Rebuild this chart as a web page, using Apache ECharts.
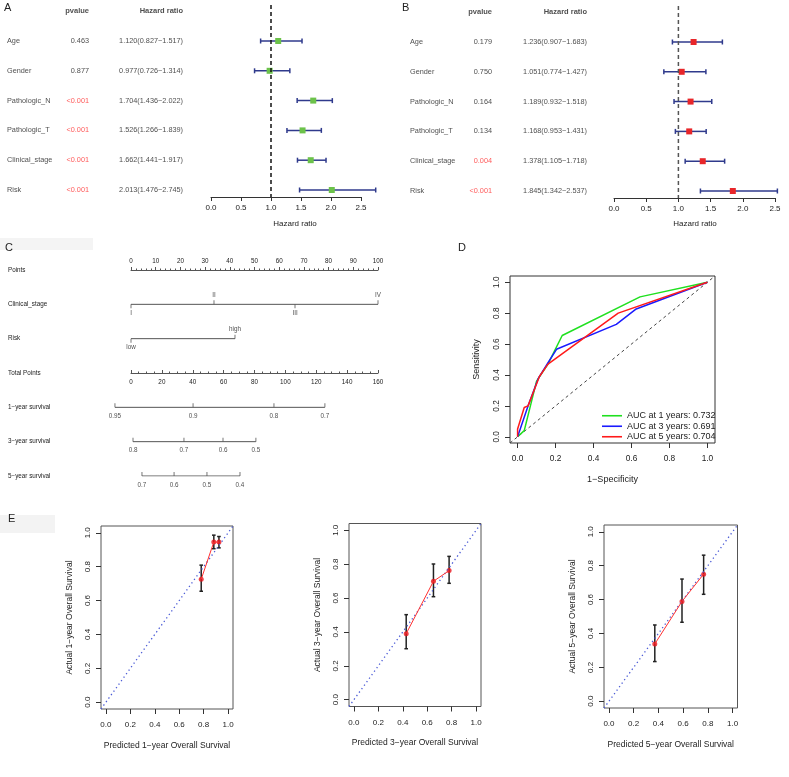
<!DOCTYPE html>
<html><head><meta charset="utf-8">
<script src="https://cdn.jsdelivr.net/npm/echarts@6/dist/echarts.min.js"></script>
<style>html,body{margin:0;padding:0;background:#fff}#c{width:789px;height:777px}</style>
</head><body><div id="c"></div>
<script>
// ---------- DATA ----------
const forestVars = ['Age','Gender','Pathologic_N','Pathologic_T','Clinical_stage','Risk'];
const uniP  = ['0.463','0.877','<0.001','<0.001','<0.001','<0.001'];
const uniHR = [1.120,0.977,1.704,1.526,1.662,2.013];
const uniLo = [0.827,0.726,1.436,1.266,1.441,1.476];
const uniHi = [1.517,1.314,2.022,1.839,1.917,2.745];
const multiP  = ['0.179','0.750','0.164','0.134','0.004','<0.001'];
const multiHR = [1.236,1.051,1.189,1.168,1.378,1.845];
const multiLo = [0.907,0.774,0.932,0.953,1.105,1.342];
const multiHi = [1.683,1.427,1.518,1.431,1.718,2.537];
const hrTicks = [0,0.5,1,1.5,2,2.5];

const nomoRows = ['Points','Clinical_stage','Risk','Total Points','1\u2212year survival','3\u2212year survival','5\u2212year survival'];
const pointsTicks = [0,10,20,30,40,50,60,70,80,90,100];
const totalTicks = [0,20,40,60,80,100,120,140,160];
const stageLabels = ['I','II','III','IV'];
const stagePoints = [0,33.6,66.4,100];
const riskLabels = ['low','high'];
const riskPoints = [0,42.1];
const surv1Labels = ['0.95','0.9','0.8','0.7'];
const surv1Total  = [-10.4,40.2,92.6,125.6];
const surv3Labels = ['0.8','0.7','0.6','0.5'];
const surv3Total  = [1.3,34.3,59.6,80.9];
const surv5Labels = ['0.7','0.6','0.5','0.4'];
const surv5Total  = [7.1,27.9,49.2,70.6];

const rocNames = ['AUC at 1 years: 0.732','AUC at 3 years: 0.691','AUC at 5 years: 0.704'];
const roc1FPR = [0,0.035,0.10,0.16,0.235,0.645,1];
const roc1TPR = [0,0.04,0.36,0.47,0.655,0.905,1];
const roc3FPR = [0,0.055,0.11,0.158,0.205,0.52,0.625,1];
const roc3TPR = [0,0.20,0.38,0.475,0.566,0.727,0.827,1];
const roc5FPR = [0,0,0.035,0.055,0.115,0.16,0.53,1];
const roc5TPR = [0,0.05,0.19,0.20,0.39,0.47,0.80,1];

const unitTicks = [0,0.2,0.4,0.6,0.8,1.0];
const cal1Pred = [0.780,0.883,0.925], cal1Obs = [0.726,0.945,0.945], cal1Lo = [0.655,0.906,0.911], cal1Hi = [0.809,0.986,0.978];
const cal3Pred = [0.428,0.651,0.779], cal3Obs = [0.390,0.699,0.762], cal3Lo = [0.301,0.608,0.687], cal3Hi = [0.502,0.801,0.846];
const cal5Pred = [0.371,0.591,0.766], cal5Obs = [0.338,0.589,0.750], cal5Lo = [0.234,0.466,0.631], cal5Hi = [0.450,0.721,0.862];

// ---------- STYLE ----------
const TXT = '#222';
const F = "'Liberation Sans', Arial, Helvetica, sans-serif";
const NAVY = '#2f3a8c';
const ROW_MIN = -1.208, ROW_MAX = 5.235;
const FT = 7.3;   // forest table font
const FNM = 6.3;  // nomogram font

const chart = echarts.init(document.getElementById('c'));

function hidX(g, min, max){ return {gridIndex:g, type:'value', min, max, show:false}; }
function hidY(g, min, max, inv){ return {gridIndex:g, type:'value', min, max, inverse:!!inv, show:false}; }
function hrAxis(g){
  return {gridIndex:g, type:'value', min:0, max:2.5,
    axisLine:{show:true, onZero:false, lineStyle:{color:'#333', width:1}},
    axisTick:{show:true, length:4, customValues:hrTicks, lineStyle:{color:'#333'}},
    axisLabel:{customValues:hrTicks, fontSize:8, color:TXT, fontFamily:F, margin:7, formatter:v=>v.toFixed(1)},
    splitLine:{show:false}};
}
function unitX(g, name, fs, tfs){
  return {gridIndex:g, type:'value', min:-0.04, max:1.04,
    axisLine:{show:false, onZero:false},
    axisTick:{show:true, length:5, customValues:unitTicks, lineStyle:{color:'#333'}},
    axisLabel:{customValues:unitTicks, fontSize:tfs, color:TXT, fontFamily:F, margin:12, formatter:v=>v.toFixed(1)},
    splitLine:{show:false},
    name, nameLocation:'middle', nameGap:32, nameTextStyle:{fontSize:fs, color:TXT, fontFamily:F}};
}
function unitY(g, name, gap, fs, tfs){
  return {gridIndex:g, type:'value', min:-0.04, max:1.04,
    axisLine:{show:false, onZero:false},
    axisTick:{show:true, length:5, customValues:unitTicks, lineStyle:{color:'#333'}},
    axisLabel:{customValues:unitTicks, rotate:90, fontSize:tfs, color:TXT, fontFamily:F, margin:9, formatter:v=>v.toFixed(1)},
    splitLine:{show:false},
    name, nameLocation:'middle', nameGap:gap, nameTextStyle:{fontSize:fs, color:TXT, fontFamily:F}};
}
function textCol(xi, yi, x, texts, pos, opts){
  opts = opts || {};
  return {type:'scatter', xAxisIndex:xi, yAxisIndex:yi, symbolSize:0, silent:true, clip:false,
    data: texts.map((t,i)=>({value:[x, opts.rows ? opts.rows[i] : i], t,
      label:{color: opts.colors ? opts.colors[i] : TXT}})),
    label:{show:true, position:pos, distance:0, fontSize:opts.fs||FT, fontWeight:opts.bold?'bold':'normal',
      fontFamily:F, formatter:p=>p.data.t}};
}
function forestSeries(xi, yi, lo, hi, hr, color){
  return {type:'custom', xAxisIndex:xi, yAxisIndex:yi, clip:false, silent:true,
    data: hr.map((h,i)=>[i, lo[i], hi[i], h]), encode:{x:[1,2,3], y:0},
    renderItem:(params, api)=>{
      const a = api.coord([api.value(1), api.value(0)]);
      const b = api.coord([api.value(2), api.value(0)]);
      const c = api.coord([api.value(3), api.value(0)]);
      const st = {stroke:NAVY, lineWidth:1.5};
      return {type:'group', children:[
        {type:'line', shape:{x1:a[0],y1:a[1],x2:b[0],y2:b[1]}, style:st},
        {type:'line', shape:{x1:a[0],y1:a[1]-2.5,x2:a[0],y2:a[1]+2.5}, style:st},
        {type:'line', shape:{x1:b[0],y1:b[1]-2.5,x2:b[0],y2:b[1]+2.5}, style:st},
        {type:'rect', shape:{x:c[0]-3,y:c[1]-3,width:6,height:6}, style:{fill:color}}
      ]};
    }};
}
function pColor(p){ return (p[0]==='<' || parseFloat(p) < 0.05) ? '#ff3030' : TXT; }
function hrText(h,l,u){ return h.toFixed(3)+'('+l.toFixed(3)+'\u2212'+u.toFixed(3)+')'; }

function nomoRow(xi, row, pos, labels, posFn){
  return [
    {type:'line', xAxisIndex:xi, yAxisIndex:4, clip:false, silent:true, symbol:'none',
      data:[[Math.min(...pos),row],[Math.max(...pos),row]], lineStyle:{color:'#555', width:1}},
    {type:'scatter', xAxisIndex:xi, yAxisIndex:4, clip:false, silent:true, symbol:'rect',
      itemStyle:{color:'#555'},
      data: pos.map((p,i)=>{ const w = posFn(i);
        return {value:[p,row], t:labels[i], symbolSize:[1,4], symbolOffset:[0, w.tick==='up'?-2:2],
          label:{position:w.label, distance:w.dist}}; }),
      label:{show:true, fontSize:FNM, fontFamily:F, color:TXT, formatter:p=>p.data.t}}
  ];
}
function calSeries(xi, yi, pred, obs, lo, hi){
  return [
    {type:'line', xAxisIndex:xi, yAxisIndex:yi, silent:true, symbol:'none', data:[[-0.04,-0.04],[1.04,1.04]],
      lineStyle:{color:'#4a5ad6', width:1.3, type:[1.3,3]}},
    {type:'line', xAxisIndex:xi, yAxisIndex:yi, silent:true, symbol:'none', data:pred.map((p,i)=>[p,obs[i]]),
      lineStyle:{color:'#ff3030', width:1}},
    {type:'custom', xAxisIndex:xi, yAxisIndex:yi, silent:true, data:pred.map((p,i)=>[p,lo[i],hi[i]]), encode:{x:0,y:[1,2]},
      renderItem:(params, api)=>{
        const a = api.coord([api.value(0), api.value(1)]);
        const b = api.coord([api.value(0), api.value(2)]);
        const st = {stroke:'#222', lineWidth:1.5};
        return {type:'group', children:[
          {type:'line', shape:{x1:a[0],y1:a[1],x2:b[0],y2:b[1]}, style:st},
          {type:'line', shape:{x1:a[0]-1.8,y1:a[1],x2:a[0]+1.8,y2:a[1]}, style:st},
          {type:'line', shape:{x1:b[0]-1.8,y1:b[1],x2:b[0]+1.8,y2:b[1]}, style:st}
        ]};
      }},
    {type:'scatter', xAxisIndex:xi, yAxisIndex:yi, silent:true, symbol:'circle', symbolSize:5,
      itemStyle:{color:'#e8141c'}, data:pred.map((p,i)=>[p,obs[i]])}
  ];
}

const grids = [
  {left:0, top:5, width:200, height:192},          // 0 A table
  {left:211, top:5, width:150, height:192},        // 1 A plot
  {left:395, top:6, width:200, height:192},        // 2 B table
  {left:614, top:6, width:161, height:192},        // 3 B plot
  {left:131, top:270, width:247, height:206},      // 4 nomogram
  {left:131, top:363, width:247, height:10},       // 5 total points
  {left:510, top:276, width:205, height:167, show:true, borderColor:'#333', borderWidth:1},   // 6 ROC
  {left:101, top:526, width:132, height:183, show:true, borderColor:'#555', borderWidth:1},   // 7 E1
  {left:349, top:523.5, width:132, height:183, show:true, borderColor:'#555', borderWidth:1}, // 8 E2
  {left:604, top:525, width:133.5, height:183, show:true, borderColor:'#555', borderWidth:1}  // 9 E3
];

const xAxes = [
  hidX(0,0,200), hrAxis(1), hidX(2,0,200), hrAxis(3),
  {gridIndex:4, type:'value', position:'top', min:0, max:100, interval:10,
    axisLine:{show:true, onZero:false, lineStyle:{color:'#555'}},
    axisTick:{show:true, length:3, customValues:pointsTicks, lineStyle:{color:'#555'}},
    minorTick:{show:true, splitNumber:5, length:1.5, lineStyle:{color:'#555'}},
    axisLabel:{customValues:pointsTicks, fontSize:FNM, color:TXT, fontFamily:F, margin:6}, splitLine:{show:false}},
  hidX(4,0,160),
  {gridIndex:5, type:'value', min:0, max:160, interval:20,
    axisLine:{show:true, onZero:false, lineStyle:{color:'#555'}},
    axisTick:{show:true, inside:true, length:3, customValues:totalTicks, lineStyle:{color:'#555'}},
    minorTick:{show:true, splitNumber:4, length:1.5, lineStyle:{color:'#555'}},
    axisLabel:{customValues:totalTicks, fontSize:FNM, color:TXT, fontFamily:F, margin:6}, splitLine:{show:false}},
  unitX(6,'1\u2212Specificity',9,8.3),
  unitX(7,'Predicted 1\u2212year Overall Survival',8.5,8),
  unitX(8,'Predicted 3\u2212year Overall Survival',8.5,8),
  unitX(9,'Predicted 5\u2212year Overall Survival',8.5,8)
];

const yAxes = [
  hidY(0,ROW_MIN,ROW_MAX,true), hidY(1,ROW_MIN,ROW_MAX,true), hidY(2,ROW_MIN,ROW_MAX,true), hidY(3,ROW_MIN,ROW_MAX,true),
  {gridIndex:4, type:'category', data:nomoRows, inverse:true, boundaryGap:false,
    axisLine:{show:false}, axisTick:{show:false}, splitLine:{show:false},
    axisLabel:{align:'left', margin:123, fontSize:FNM, color:TXT, fontFamily:F}},
  hidY(5,0,1),
  unitY(6,'Sensitivity',29,9,8.3),
  unitY(7,'Actual 1\u2212year Overall Survival',27,8.5,8),
  unitY(8,'Actual 3\u2212year Overall Survival',27,8.5,8),
  unitY(9,'Actual 5\u2212year Overall Survival',27,8.5,8)
];

let series = [];
// Panel A
series.push(textCol(0,0,7,forestVars,'right'));
series.push(textCol(0,0,89,uniP,'left',{colors:uniP.map(pColor)}));
series.push(textCol(0,0,183,uniHR.map((h,i)=>hrText(h,uniLo[i],uniHi[i])),'left'));
series.push(textCol(0,0,89,['pvalue'],'left',{rows:[-1.0],bold:true,fs:7.5}));
series.push(textCol(0,0,183,['Hazard ratio'],'left',{rows:[-1.0],bold:true,fs:7.5}));
series.push({type:'line', xAxisIndex:1, yAxisIndex:1, silent:true, symbol:'none', clip:false,
  data:[[1,ROW_MIN],[1,ROW_MAX]], lineStyle:{color:'#111', width:1.5, type:[4,3]}});
series.push(forestSeries(1,1,uniLo,uniHi,uniHR,'#6cc24a'));
// Panel B
series.push(textCol(2,2,15,forestVars,'right'));
series.push(textCol(2,2,97,multiP,'left',{colors:multiP.map(pColor)}));
series.push(textCol(2,2,192,multiHR.map((h,i)=>hrText(h,multiLo[i],multiHi[i])),'left'));
series.push(textCol(2,2,97,['pvalue'],'left',{rows:[-1.0],bold:true,fs:7.5}));
series.push(textCol(2,2,192,['Hazard ratio'],'left',{rows:[-1.0],bold:true,fs:7.5}));
series.push({type:'line', xAxisIndex:3, yAxisIndex:3, silent:true, symbol:'none', clip:false,
  data:[[1,ROW_MIN],[1,ROW_MAX]], lineStyle:{color:'#555', width:1.5, type:[4,3]}});
series.push(forestSeries(3,3,multiLo,multiHi,multiHR,'#e8262a'));
// Panel C nomogram
const alt = i => i%2 ? {label:'top',tick:'up',dist:2} : {label:'bottom',tick:'down',dist:2};
series = series.concat(nomoRow(4,1,stagePoints,stageLabels,alt));
series = series.concat(nomoRow(4,2,riskPoints,riskLabels,alt));
const below = ()=>({label:'bottom',tick:'up',dist:6});
series = series.concat(nomoRow(5,4,surv1Total,surv1Labels,below));
series = series.concat(nomoRow(5,5,surv3Total,surv3Labels,below));
series = series.concat(nomoRow(5,6,surv5Total,surv5Labels,below));
// Panel D ROC
series.push({type:'line', xAxisIndex:7, yAxisIndex:6, silent:true, symbol:'none', data:[[-0.04,-0.04],[1.04,1.04]],
  lineStyle:{color:'#444', width:1, type:[3,3]}});
const rocSets = [[roc1FPR,roc1TPR,'#1fe01f'],[roc3FPR,roc3TPR,'#1a1aff'],[roc5FPR,roc5TPR,'#ff1a1a']];
rocSets.forEach((s,k)=>{
  series.push({type:'line', name:rocNames[k], xAxisIndex:7, yAxisIndex:6, silent:true, symbol:'none',
    data:s[0].map((x,i)=>[x,s[1][i]]), itemStyle:{color:s[2]}, lineStyle:{color:s[2], width:1.5}});
});
// Panel E
series = series.concat(calSeries(8,7,cal1Pred,cal1Obs,cal1Lo,cal1Hi));
series = series.concat(calSeries(9,8,cal3Pred,cal3Obs,cal3Lo,cal3Hi));
series = series.concat(calSeries(10,9,cal5Pred,cal5Obs,cal5Lo,cal5Hi));

const txt = (t,x,y,fs,align)=>({type:'text', x, y, z:10, style:{text:t, fontSize:fs, fill:TXT, fontFamily:F, align:align||'left', verticalAlign:'middle'}});

chart.setOption({
  animation:false,
  backgroundColor:'#fff',
  grid:grids, xAxis:xAxes, yAxis:yAxes, series,
  legend:{data:rocNames, left:597, top:405.5, orient:'vertical', icon:'rect', itemWidth:20, itemHeight:1.6, itemGap:0,
    selectedMode:false, textStyle:{fontSize:9, color:TXT, fontFamily:F, lineHeight:10.5}},
  graphic:[
    {type:'rect', left:0, top:238, z:-1, shape:{width:93, height:12}, style:{fill:'#f4f4f4'}},
    {type:'rect', left:0, top:515, z:-1, shape:{width:55, height:18}, style:{fill:'#f3f3f3'}},
    txt('A',4,8,11), txt('B',402,8,11), txt('C',5,248,11), txt('D',458,248,11), txt('E',8,519,11),
    txt('Hazard ratio',295,224,8,'center'), txt('Hazard ratio',695,224,8,'center')
  ]
});
</script></body></html>
